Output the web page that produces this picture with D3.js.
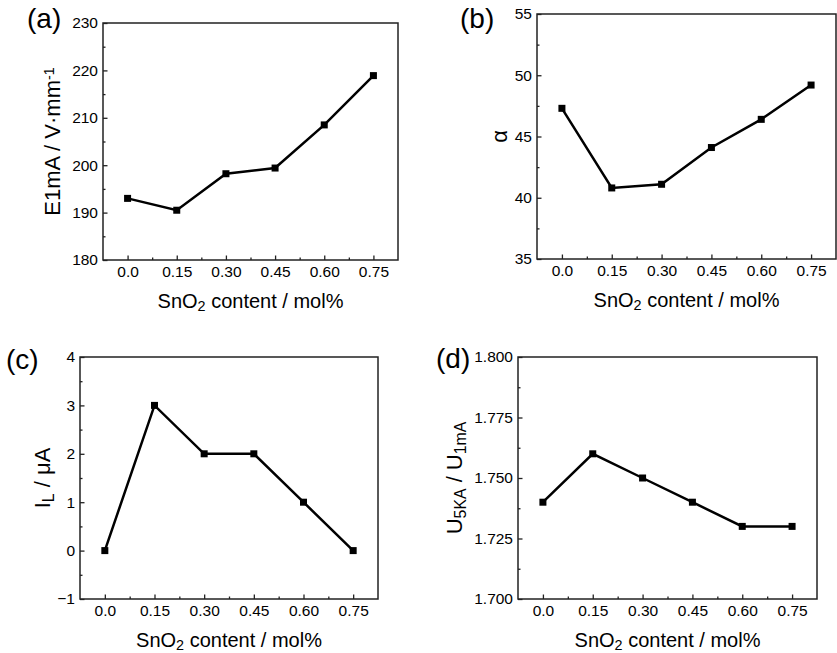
<!DOCTYPE html>
<html>
<head>
<meta charset="utf-8">
<style>
  body { margin: 0; background: #fff; }
  text { font-family: "Liberation Sans", Arial, sans-serif; fill: #000; }
  .tick text { font-size: 15.5px; fill: #000; }
  .frame { fill: none; stroke: #222; stroke-width: 1.5; }
  .series { fill: none; stroke: #000; stroke-width: 2.5; }
</style>
</head>
<body>
<script src="https://cdn.jsdelivr.net/npm/d3@7"></script>
<script>
var content = [0, 0.15, 0.30, 0.45, 0.60, 0.75];
var xTickLabels = ["0.0", "0.15", "0.30", "0.45", "0.60", "0.75"];

var fieldE1mA = [193, 190.5, 198.2, 199.4, 208.5, 218.9];
var alphaVals = [47.3, 40.8, 41.1, 44.1, 46.4, 49.2];
var leakage = [0, 3, 2, 2, 1, 0];
var ratioVals = [1.740, 1.760, 1.750, 1.740, 1.730, 1.730];

var yTicksA = [180, 190, 200, 210, 220, 230];
var yTicksB = [35, 40, 45, 50, 55];
var yTicksC = [-1, 0, 1, 2, 3, 4];
var yTicksD = [1.700, 1.725, 1.750, 1.775, 1.800];

var W = 837, H = 653;
var svg = d3.select("body").append("svg").attr("width", W).attr("height", H);

var panels = [
  { tag: "(a)", values: fieldE1mA, ticks: yTicksA, fmt: d3.format("d"),
    box: [103, 23, 398, 260], tagPos: [27, 28], yTitleX: 60,
    yTitle: [["E1mA / V·mm", 0], ["-1", 1]] },
  { tag: "(b)", values: alphaVals, ticks: yTicksB, fmt: d3.format("d"),
    box: [537, 14, 836, 259], tagPos: [460, 28], yTitleX: 507,
    yTitle: [["α", 0]] },
  { tag: "(c)", values: leakage, ticks: yTicksC, fmt: d3.format("d"),
    box: [80, 357, 378, 599], tagPos: [6, 369], yTitleX: 50,
    yTitle: [["I", 0], ["L", -1], [" / μA", 0]] },
  { tag: "(d)", values: ratioVals, ticks: yTicksD, fmt: d3.format(".3f"),
    box: [518, 357, 817, 599], tagPos: [436, 368], yTitleX: 462,
    yTitle: [["U", 0], ["5KA", -1], [" / U", 0], ["1mA", -1]] }
];

function minorBetween(arr) {
  var out = [];
  for (var i = 0; i < arr.length - 1; i++) out.push((arr[i] + arr[i + 1]) / 2);
  return out;
}

function addRich(textSel, parts, size) {
  parts.forEach(function(p) {
    var t = textSel.append("tspan").text(p[0]);
    if (p[1] === -1) t.attr("font-size", size * 0.72).attr("baseline-shift", "-22%");
    else if (p[1] === 1) t.attr("font-size", size * 0.65).attr("baseline-shift", "45%");
  });
}

function styleTicks(s) {
  s.select(".domain").remove();
  s.selectAll("line").attr("stroke", "#222").attr("stroke-width", 1.3);
}

panels.forEach(function(p) {
  var x0 = p.box[0], y0 = p.box[1], x1 = p.box[2], y1 = p.box[3];
  var x = d3.scaleLinear().domain([-0.075, 0.825]).range([x0, x1]);
  var y = d3.scaleLinear().domain([p.ticks[0], p.ticks[p.ticks.length - 1]]).range([y1, y0]);
  var g = svg.append("g");

  // minor ticks
  g.append("g").attr("transform", "translate(0," + y1 + ")")
    .call(d3.axisBottom(x).tickValues(minorBetween(content)).tickSize(-2.5).tickFormat(""))
    .call(styleTicks);
  g.append("g").attr("transform", "translate(" + x0 + ",0)")
    .call(d3.axisLeft(y).tickValues(minorBetween(p.ticks)).tickSize(-2.5).tickFormat(""))
    .call(styleTicks);

  // major ticks
  g.append("g").attr("transform", "translate(0," + y1 + ")")
    .call(d3.axisBottom(x).tickValues(content).tickSize(-4.5).tickPadding(6)
      .tickFormat(function(d, i) { return xTickLabels[i]; }))
    .call(styleTicks);
  g.append("g").attr("transform", "translate(" + x0 + ",0)")
    .call(d3.axisLeft(y).tickValues(p.ticks).tickSize(-4.5).tickPadding(5).tickFormat(p.fmt))
    .call(styleTicks);

  g.selectAll(".tick text").attr("font-family", null);

  g.append("rect").attr("class", "frame")
    .attr("x", x0).attr("y", y0).attr("width", x1 - x0).attr("height", y1 - y0);

  var pts = content.map(function(c, i) { return [c, p.values[i]]; });
  g.append("path").attr("class", "series").datum(pts)
    .attr("d", d3.line().x(function(d) { return x(d[0]); }).y(function(d) { return y(d[1]); }));
  g.selectAll("rect.pt").data(pts).enter().append("rect").attr("class", "pt")
    .attr("x", function(d) { return x(d[0]) - 3.5; })
    .attr("y", function(d) { return y(d[1]) - 3.5; })
    .attr("width", 7).attr("height", 7).attr("fill", "#000");

  // x title
  var xt = g.append("text").attr("x", (x0 + x1) / 2).attr("y", y1 + 48)
    .attr("text-anchor", "middle").attr("font-size", 20);
  addRich(xt, [["SnO", 0], ["2", -1], [" content / mol%", 0]], 20);

  // y title
  var yt = g.append("text")
    .attr("transform", "translate(" + p.yTitleX + "," + ((y0 + y1) / 2) + ") rotate(-90)")
    .attr("text-anchor", "middle").attr("font-size", 22);
  addRich(yt, p.yTitle, 22);

  // panel tag
  g.append("text").attr("x", p.tagPos[0]).attr("y", p.tagPos[1])
    .attr("font-size", 28).text(p.tag);
});
</script>
</body>
</html>
